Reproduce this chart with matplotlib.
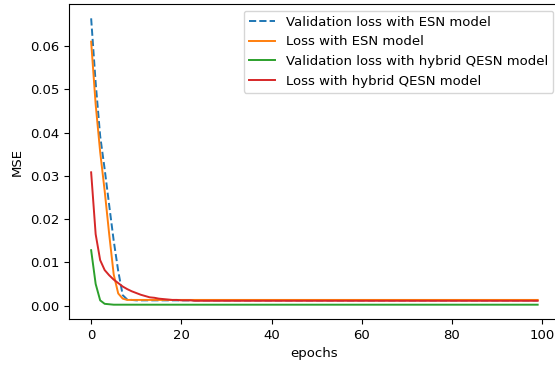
import numpy as np
import matplotlib
matplotlib.use('Agg')
import matplotlib.pyplot as plt

# MSE per epoch
val_loss_esn = [
    0.0664, 0.0515, 0.0392, 0.0315, 0.0232, 0.0150, 0.0080, 0.0024, 0.0014, 0.0013,
    0.0012, 0.0012, 0.0012, 0.0012, 0.0012, 0.0012, 0.0012, 0.0012, 0.0012, 0.0012,
    0.0012, 0.0012, 0.0012, 0.0012, 0.0012, 0.0012, 0.0012, 0.0012, 0.0012, 0.0012,
    0.0012, 0.0012, 0.0012, 0.0012, 0.0012, 0.0012, 0.0012, 0.0012, 0.0012, 0.0012,
    0.0012, 0.0012, 0.0012, 0.0012, 0.0012, 0.0012, 0.0012, 0.0012, 0.0012, 0.0012,
    0.0012, 0.0012, 0.0012, 0.0012, 0.0012, 0.0012, 0.0012, 0.0012, 0.0012, 0.0012,
    0.0012, 0.0012, 0.0012, 0.0012, 0.0012, 0.0012, 0.0012, 0.0012, 0.0012, 0.0012,
    0.0012, 0.0012, 0.0012, 0.0012, 0.0012, 0.0012, 0.0012, 0.0012, 0.0012, 0.0012,
    0.0012, 0.0012, 0.0012, 0.0012, 0.0012, 0.0012, 0.0012, 0.0012, 0.0012, 0.0012,
    0.0012, 0.0012, 0.0012, 0.0012, 0.0012, 0.0012, 0.0012, 0.0012, 0.0012, 0.0012,
]
loss_esn = [
    0.0610, 0.0465, 0.0355, 0.0265, 0.0165, 0.0072, 0.0028, 0.0016, 0.0013, 0.0013,
    0.0013, 0.0013, 0.0013, 0.0013, 0.0013, 0.0013, 0.0013, 0.0013, 0.0013, 0.0013,
    0.0013, 0.0013, 0.0013, 0.0013, 0.0013, 0.0013, 0.0013, 0.0013, 0.0013, 0.0013,
    0.0013, 0.0013, 0.0013, 0.0013, 0.0013, 0.0013, 0.0013, 0.0013, 0.0013, 0.0013,
    0.0013, 0.0013, 0.0013, 0.0013, 0.0013, 0.0013, 0.0013, 0.0013, 0.0013, 0.0013,
    0.0013, 0.0013, 0.0013, 0.0013, 0.0013, 0.0013, 0.0013, 0.0013, 0.0013, 0.0013,
    0.0013, 0.0013, 0.0013, 0.0013, 0.0013, 0.0013, 0.0013, 0.0013, 0.0013, 0.0013,
    0.0013, 0.0013, 0.0013, 0.0013, 0.0013, 0.0013, 0.0013, 0.0013, 0.0013, 0.0013,
    0.0013, 0.0013, 0.0013, 0.0013, 0.0013, 0.0013, 0.0013, 0.0013, 0.0013, 0.0013,
    0.0013, 0.0013, 0.0013, 0.0013, 0.0013, 0.0013, 0.0013, 0.0013, 0.0013, 0.0013,
]
val_loss_qesn = [
    0.0128, 0.0050, 0.0012, 0.0004, 0.0003, 0.0002, 0.0002, 0.0002, 0.0002, 0.0002,
    0.0002, 0.0002, 0.0002, 0.0002, 0.0002, 0.0002, 0.0002, 0.0002, 0.0002, 0.0002,
    0.0002, 0.0002, 0.0002, 0.0002, 0.0002, 0.0002, 0.0002, 0.0002, 0.0002, 0.0002,
    0.0002, 0.0002, 0.0002, 0.0002, 0.0002, 0.0002, 0.0002, 0.0002, 0.0002, 0.0002,
    0.0002, 0.0002, 0.0002, 0.0002, 0.0002, 0.0002, 0.0002, 0.0002, 0.0002, 0.0002,
    0.0002, 0.0002, 0.0002, 0.0002, 0.0002, 0.0002, 0.0002, 0.0002, 0.0002, 0.0002,
    0.0002, 0.0002, 0.0002, 0.0002, 0.0002, 0.0002, 0.0002, 0.0002, 0.0002, 0.0002,
    0.0002, 0.0002, 0.0002, 0.0002, 0.0002, 0.0002, 0.0002, 0.0002, 0.0002, 0.0002,
    0.0002, 0.0002, 0.0002, 0.0002, 0.0002, 0.0002, 0.0002, 0.0002, 0.0002, 0.0002,
    0.0002, 0.0002, 0.0002, 0.0002, 0.0002, 0.0002, 0.0002, 0.0002, 0.0002, 0.0002,
]
loss_qesn = [
    0.0308, 0.0165, 0.0105, 0.0082, 0.0070, 0.0060, 0.0052, 0.0044, 0.0038, 0.0033,
    0.0029, 0.0025, 0.0022, 0.0019, 0.0018, 0.0016, 0.0015, 0.0014, 0.0013, 0.0013,
    0.0012, 0.0012, 0.0012, 0.0011, 0.0011, 0.0011, 0.0011, 0.0011, 0.0011, 0.0011,
    0.0011, 0.0011, 0.0011, 0.0011, 0.0011, 0.0011, 0.0011, 0.0011, 0.0011, 0.0011,
    0.0011, 0.0011, 0.0011, 0.0011, 0.0011, 0.0011, 0.0011, 0.0011, 0.0011, 0.0011,
    0.0011, 0.0011, 0.0011, 0.0011, 0.0011, 0.0011, 0.0011, 0.0011, 0.0011, 0.0011,
    0.0011, 0.0011, 0.0011, 0.0011, 0.0011, 0.0011, 0.0011, 0.0011, 0.0011, 0.0011,
    0.0011, 0.0011, 0.0011, 0.0011, 0.0011, 0.0011, 0.0011, 0.0011, 0.0011, 0.0011,
    0.0011, 0.0011, 0.0011, 0.0011, 0.0011, 0.0011, 0.0011, 0.0011, 0.0011, 0.0011,
    0.0011, 0.0011, 0.0011, 0.0011, 0.0011, 0.0011, 0.0011, 0.0011, 0.0011, 0.0011,
]
epochs = np.arange(len(val_loss_esn))

plt.rcParams['font.size'] = 9.5
plt.rcParams['lines.linewidth'] = 1.4

fig = plt.figure(figsize=(5.55, 3.65), dpi=100)
ax = fig.add_axes([0.124, 0.126, 0.885, 0.863])

ax.plot(epochs, val_loss_esn, '--', color='#1f77b4', label='Validation loss with ESN model')
ax.plot(epochs, loss_esn, color='#ff7f0e', label='Loss with ESN model')
ax.plot(epochs, val_loss_qesn, color='#2ca02c', label='Validation loss with hybrid QESN model')
ax.plot(epochs, loss_qesn, color='#d62728', label='Loss with hybrid QESN model')

ax.set_xlabel('epochs')
ax.set_ylabel('MSE')
ax.legend(loc='upper right')

fig.savefig('out.png', dpi=100)
